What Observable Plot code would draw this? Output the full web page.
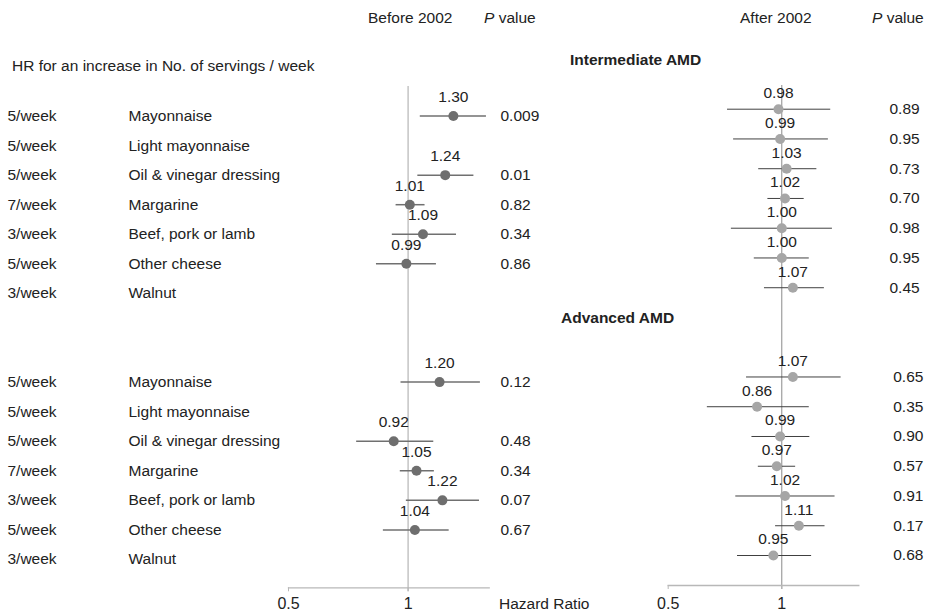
<!DOCTYPE html>
<html><head><meta charset="utf-8">
<script src="https://cdn.jsdelivr.net/npm/d3@7"></script>
<script src="https://cdn.jsdelivr.net/npm/@observablehq/plot@0.6"></script>
<style>
body{margin:0;background:#fff;font-family:"Liberation Sans",Arial,sans-serif;}
#wrap{position:relative;width:928px;height:616px;overflow:hidden;background:#fff;}
.lbl{position:absolute;font-size:15.5px;line-height:15px;color:#222;white-space:nowrap;z-index:2;}
.b{font-weight:bold}
#left,#right{position:absolute;top:0}
#left{left:0} #right{left:560px}
</style></head><body>
<div id="wrap">
  <div id="left"></div><div id="right"></div>
  <div class="lbl" style="left:368px;top:10.4px">Before 2002</div>
  <div class="lbl" style="left:484px;top:10.4px"><i>P</i> value</div>
  <div class="lbl" style="left:12px;top:57.8px">HR for an increase in No. of servings / week</div>
  <div class="lbl" style="left:740px;top:9.5px">After 2002</div>
  <div class="lbl" style="left:872px;top:9.5px"><i>P</i> value</div>
  <div class="lbl b" style="left:570px;top:51.8px">Intermediate AMD</div>
  <div class="lbl b" style="left:561px;top:309.8px">Advanced AMD</div>
  <div class="lbl" style="left:499px;top:595.5px">Hazard Ratio</div>
</div>
<script>
// ---- data ----
const servings = ["5/week","5/week","5/week","7/week","3/week","5/week","3/week"];
const foods = ["Mayonnaise","Light mayonnaise","Oil & vinegar dressing","Margarine","Beef, pork or lamb","Other cheese","Walnut"];
const xTicks = [0.5, 1];

// Before 2002 – intermediate AMD
const beforeInterHR = [1.30, null, 1.24, 1.01, 1.09, 0.99, null];
const beforeInterLo = [1.07, null, 1.055, 0.93, 0.91, 0.83, null];
const beforeInterHi = [1.57, null, 1.46, 1.10, 1.32, 1.175, null];
const beforeInterP  = ["0.009", "", "0.01", "0.82", "0.34", "0.86", ""];
// Before 2002 – advanced AMD
const beforeAdvHR = [1.20, null, 0.92, 1.05, 1.22, 1.04, null];
const beforeAdvLo = [0.957, null, 0.74, 0.953, 0.987, 0.864, null];
const beforeAdvHi = [1.516, null, 1.157, 1.161, 1.508, 1.265, null];
const beforeAdvP  = ["0.12", "", "0.48", "0.34", "0.07", "0.67", ""];
// After 2002 – intermediate AMD
const afterInterHR = [0.98, 0.99, 1.03, 1.02, 1.00, 1.00, 1.07];
const afterInterLo = [0.716, 0.743, 0.866, 0.916, 0.733, 0.843, 0.897];
const afterInterHi = [1.344, 1.325, 1.235, 1.143, 1.358, 1.179, 1.293];
const afterInterP  = ["0.89", "0.95", "0.73", "0.70", "0.98", "0.95", "0.45"];
// After 2002 – advanced AMD
const afterAdvHR = [1.07, 0.86, 0.99, 0.97, 1.02, 1.11, 0.95];
const afterAdvLo = [0.804, 0.633, 0.831, 0.864, 0.753, 0.96, 0.761];
const afterAdvHi = [1.432, 1.179, 1.183, 1.085, 1.38, 1.298, 1.196];
const afterAdvP  = ["0.65", "0.35", "0.90", "0.57", "0.91", "0.17", "0.68"];

// ---- layout ----
const GAP = 9; // row offset of the second group
function rows(hr, lo, hi, p, g) {
  return foods.map((f, i) => ({row: i + g * GAP, group: g, food: f, serving: servings[i], hr: hr[i], lo: lo[i], hi: hi[i], p: p[i]}));
}
const leftData = [...rows(beforeInterHR, beforeInterLo, beforeInterHi, beforeInterP, 0),
                  ...rows(beforeAdvHR, beforeAdvLo, beforeAdvHi, beforeAdvP, 1)];
const rightData = [...rows(afterInterHR, afterInterLo, afterInterHi, afterInterP, 0),
                   ...rows(afterAdvHR, afterAdvLo, afterAdvHi, afterAdvP, 1)];
const font = '"Liberation Sans", Arial, sans-serif';
const fmt = d => String(d);
const FS = 15.5;

const leftEst = leftData.filter(d => d.hr != null);
const leftPlot = Plot.plot({
  width: 560, height: 616,
  marginLeft: 288, marginRight: 71.3, marginTop: 86, marginBottom: 28.7,
  style: {fontFamily: font, fontSize: FS + "px", color: "#222", background: "transparent", overflow: "visible"},
  x: {type: "log", domain: [0.5, 1.6]},
  y: {domain: [0, 15], range: [115.5, 559], axis: null},
  marks: [
    Plot.ruleX([1], {stroke: "#c4c4c4", strokeWidth: 1.5, insetBottom: -4}),
    Plot.frame({anchor: "bottom", stroke: "#b8b8b8", strokeWidth: 1.3}),
    Plot.axisX({ticks: xTicks, tickFormat: fmt, tickSize: 4, tickPadding: 6, stroke: "#b8b8b8", fill: "#222", fontSize: 16}),
    Plot.link(leftEst, {x1: "lo", x2: "hi", y1: "row", y2: "row", stroke: "#707070", strokeWidth: 1.5}),
    Plot.dot(leftEst, {x: "hr", y: "row", r: 5, fill: "#6e6e6e", stroke: "none"}),
    Plot.text(leftEst, {x: "hr", y: "row", text: d => d.hr.toFixed(2), dy: -19, fill: "#222", fontSize: FS}),
    Plot.text(leftData, {frameAnchor: "left", y: "row", text: "serving", dx: -281, textAnchor: "start", fill: "#222", fontSize: FS}),
    Plot.text(leftData, {frameAnchor: "left", y: "row", text: "food", dx: -160, textAnchor: "start", fill: "#222", fontSize: FS}),
    Plot.text(leftEst, {frameAnchor: "right", y: "row", text: "p", dx: 11.3, textAnchor: "start", fill: "#222", fontSize: FS})
  ]
});
document.getElementById("left").append(leftPlot);

const rightPlot = Plot.plot({
  width: 368, height: 616,
  marginLeft: 107.7, marginRight: 69.7, marginTop: 85, marginBottom: 31,
  style: {fontFamily: font, fontSize: FS + "px", color: "#222", background: "transparent", overflow: "visible"},
  x: {type: "log", domain: [0.5, 1.6]},
  y: {domain: [0, 15], range: [108.7, 555], axis: null},
  marks: [
    Plot.ruleX([1], {stroke: "#8a8a8a", strokeWidth: 1, insetBottom: -4}),
    Plot.frame({anchor: "bottom", stroke: "#b8b8b8", strokeWidth: 1.3}),
    Plot.axisX({ticks: xTicks, tickFormat: fmt, tickSize: 4, tickPadding: 8, stroke: "#b8b8b8", fill: "#222", fontSize: 16}),
    Plot.link(rightData, {x1: "lo", x2: "hi", y1: "row", y2: "row", stroke: "#404040", strokeWidth: 1}),
    Plot.dot(rightData, {x: "hr", y: "row", r: 5, fill: "#a6a6a6", stroke: "none"}),
    Plot.text(rightData, {x: "hr", y: "row", text: d => d.hr.toFixed(2), dy: -16, fill: "#222", fontSize: FS}),
    Plot.text(rightData.filter(d => d.group === 0), {frameAnchor: "right", y: "row", text: "p", dx: 30.7, textAnchor: "start", fill: "#222", fontSize: FS}),
    Plot.text(rightData.filter(d => d.group === 1), {frameAnchor: "right", y: "row", text: "p", dx: 34.4, textAnchor: "start", fill: "#222", fontSize: FS})
  ]
});
document.getElementById("right").append(rightPlot);
</script>
</body></html>
